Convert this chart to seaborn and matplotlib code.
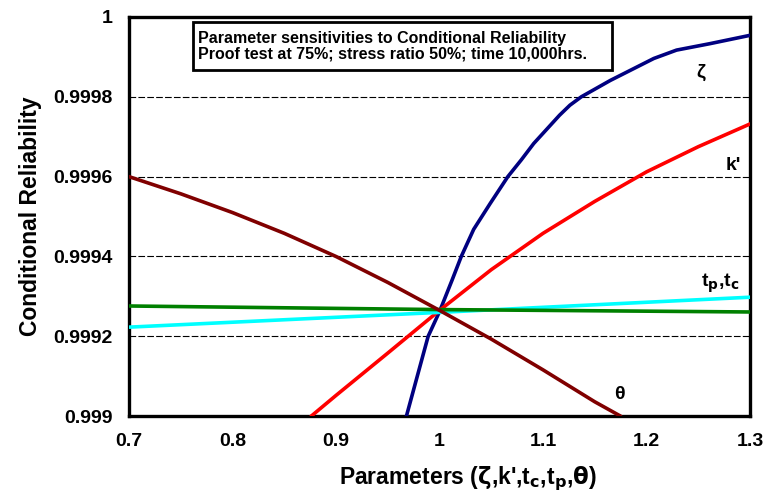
import numpy as np
import pandas as pd
import matplotlib.pyplot as plt
import seaborn as sns
from matplotlib.patches import Rectangle
from matplotlib.ticker import FuncFormatter

# curves
zeta_x = [0.968, 0.989, 1.000, 1.012, 1.021, 1.033, 1.049, 1.066, 1.079, 1.091, 1.116, 1.126, 1.137,
          1.165, 1.207, 1.229, 1.261, 1.300]
zeta_y = [0.99900, 0.99920, 0.999262, 0.99934, 0.99940, 0.999468, 0.999533, 0.99960, 0.999642,
          0.999683, 0.999754, 0.999779, 0.99980, 0.999841, 0.999896, 0.999917, 0.999933, 0.999954]

kprime_x = [0.876, 0.90, 0.95, 1.00, 1.05, 1.10, 1.15, 1.20, 1.25, 1.30]
kprime_y = [0.99900, 0.999052, 0.999158, 0.999265, 0.999367, 0.999458, 0.999538, 0.999612, 0.999675, 0.999732]

tp_x = [0.70, 1.00, 1.30]
tp_y = [0.999223, 0.999260, 0.999298]

tc_x = [0.70, 1.00, 1.30]
tc_y = [0.999276, 0.999267, 0.999261]

theta_x = [0.70, 0.75, 0.80, 0.85, 0.90, 0.95, 1.00, 1.05, 1.10, 1.15, 1.175]
theta_y = [0.99960, 0.999557, 0.999510, 0.999458, 0.999400, 0.999335, 0.999265, 0.999193, 0.999116,
           0.999036, 0.99900]

series = ["zeta", "kprime", "tp", "tc", "theta"]
colors = ["#000080", "#FF0000", "#00FFFF", "#008000", "#800000"]

frames = []
for name, xs, ys in zip(series,
                        [zeta_x, kprime_x, tp_x, tc_x, theta_x],
                        [zeta_y, kprime_y, tp_y, tc_y, theta_y]):
    frames.append(pd.DataFrame({"x": xs, "y": ys, "param": name}))
df = pd.concat(frames, ignore_index=True)

sns.set_style("white")
plt.rcParams["font.family"] = ["Liberation Sans", "DejaVu Sans"]
plt.rcParams.update({"text.color": "black", "axes.labelcolor": "black",
                     "xtick.color": "black", "ytick.color": "black"})

fig = plt.figure(figsize=(7.68, 4.99), dpi=100)
ax = fig.add_axes([0.168, 0.166, 0.8086, 0.8])

# dashed grid
for yv in [0.9992, 0.9994, 0.9996, 0.9998]:
    ax.axhline(yv, color="black", lw=0.8, ls=(0, (6, 2)), zorder=1)

sns.lineplot(data=df, x="x", y="y", hue="param", palette=dict(zip(series, colors)),
             sort=False, estimator=None, lw=2.6, legend=False, ax=ax, zorder=3)

ax.set_xlim(0.7, 1.3)
ax.set_ylim(0.999, 1.0)
ax.set_xticks([0.7, 0.8, 0.9, 1.0, 1.1, 1.2, 1.3])
ax.set_yticks([0.999, 0.9992, 0.9994, 0.9996, 0.9998, 1.0])
fmt = FuncFormatter(lambda v, p: f"{v:.4f}".rstrip("0").rstrip(".") if v < 1 else f"{v:g}")
ax.yaxis.set_major_formatter(fmt)
ax.xaxis.set_major_formatter(FuncFormatter(lambda v, p: f"{v:.1f}".rstrip("0").rstrip(".")))
ax.tick_params(direction="out", length=4, width=1.5, labelsize=14, pad=8,
               color="black", labelcolor="black")
for lab in ax.get_xticklabels() + ax.get_yticklabels():
    lab.set_fontweight("bold")
for sp in ax.spines.values():
    sp.set_linewidth(2.4)
    sp.set_color("black")

ax.set_xlabel("Parameters ($\\mathbf{\\zeta}$,k',t$_\\mathbf{c}$,t$_\\mathbf{p}$,$\\mathbf{\\theta}$)",
              fontsize=16.5, fontweight="bold", va="center", color="black")
ax.xaxis.set_label_coords(0.545, -0.158)
ax.set_ylabel("Conditional Reliability", fontsize=16.5, fontweight="bold", labelpad=8, color="black")

# curve labels
lab_kw = dict(fontsize=14, fontweight="bold", ha="center", va="center", color="black")
ax.text(1.252, 0.999862, "ζ", **lab_kw)
ax.text(1.284, 0.999629, "k'", **lab_kw)
ax.text(1.271, 0.999333, "t$_\\mathbf{p}$,t$_\\mathbf{c}$", **lab_kw)
ax.text(1.174, 0.999055, "θ", **lab_kw)

# title box
ax.add_patch(Rectangle((0.103, 0.867), 0.675, 0.12, transform=ax.transAxes,
                       fill=True, facecolor="white", edgecolor="black", lw=2, zorder=4))
ax.text(0.111, 0.927, "Parameter sensitivities to Conditional Reliability\n"
        "Proof test at 75%; stress ratio 50%; time 10,000hrs.",
        transform=ax.transAxes, fontsize=11.5, fontweight="bold", ha="left", va="center",
        linespacing=1.05, zorder=5, color="black")

fig.savefig("out.png", dpi=100)
